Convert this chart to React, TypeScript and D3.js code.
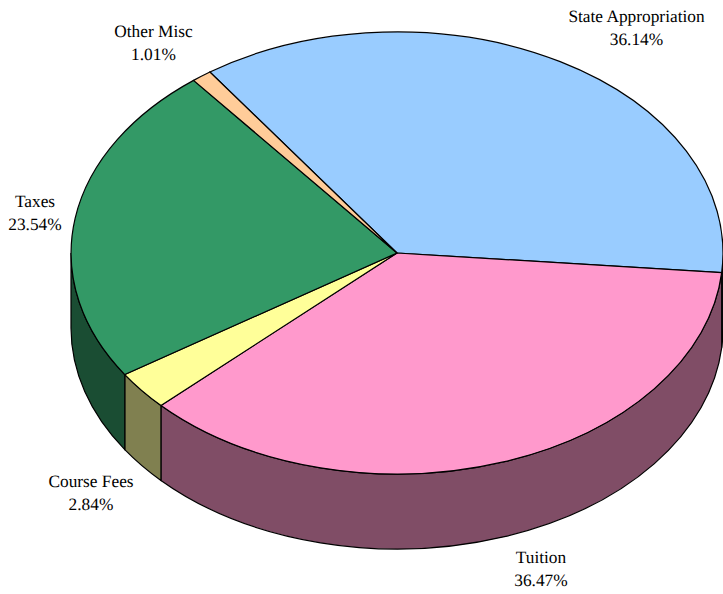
import React from "react";
import * as d3 from "d3";

const categories = ["State Appropriation", "Tuition", "Course Fees", "Taxes", "Other Misc"];
const shares = [36.14, 36.47, 2.84, 23.54, 1.01];
const shareLabels = ["36.14%", "36.47%", "2.84%", "23.54%", "1.01%"];
const topColors = ["#99CCFF", "#FF99CC", "#FFFF99", "#339966", "#FFCC99"];
const sideColors = ["#4D6680", "#804D66", "#808050", "#1A4D33", "#806650"];
const labelCenters: [number, number][] = [[636.5, 16], [541, 557], [91, 481], [35, 201], [153.5, 31]];

const W = 723, H = 594;
const cx = 397, cy = 253, rx = 326, ry = 221, depth = 75;
const startDeg = -35;

const rad = (d: number) => (d * Math.PI) / 180;
const pt = (a: number, dy = 0): [number, number] => [cx + rx * Math.sin(a), cy - ry * Math.cos(a) + dy];

export default function App() {
  const pie = d3.pie<number>().sort(null).startAngle(rad(startDeg)).endAngle(rad(startDeg + 360));
  const arcs = pie(shares);
  const arcGen = d3.arc<d3.PieArcDatum<number>>().innerRadius(0).outerRadius(1);

  const sidePath = (a0: number, a1: number) => {
    const s = Math.max(a0, Math.PI / 2), e = Math.min(a1, (3 * Math.PI) / 2);
    if (e <= s) return null;
    const p = d3.path();
    const [x0, y0] = pt(s), [x1, y1] = pt(e), [x2, y2] = pt(e, depth), [x3, y3] = pt(s, depth);
    p.moveTo(x0, y0);
    let d = p.toString();
    const large = e - s > Math.PI ? 1 : 0;
    d += `A${rx},${ry} 0 ${large} 1 ${x1},${y1}L${x2},${y2}A${rx},${ry} 0 ${large} 0 ${x3},${y3}Z`;
    return d;
  };

  return (
    <svg width={W} height={H} style={{ position: "absolute", left: 0, top: 0, background: "#fff" }}>
      {arcs.map((a, i) => {
        const d = sidePath(a.startAngle, a.endAngle);
        return d ? <path key={i} d={d} fill={sideColors[i]} stroke="#000" strokeWidth={1.2} /> : null;
      })}
      <g transform={`translate(${cx},${cy}) scale(${rx},${ry})`}>
        {arcs.map((a, i) => (
          <path
            key={i}
            d={arcGen(a) as string}
            fill={topColors[i]}
            stroke="#000"
            strokeWidth={1.2}
            vectorEffect="non-scaling-stroke"
          />
        ))}
      </g>
      <g fontFamily="'Liberation Serif', serif" fontSize={17.33} fill="#000" textAnchor="middle" textRendering="geometricPrecision">
        {categories.map((c, i) => (
          <text key={c} x={labelCenters[i][0]} y={labelCenters[i][1]}>
            <tspan x={labelCenters[i][0]} dy={6}>{c}</tspan>
            <tspan x={labelCenters[i][0]} dy={23}>{shareLabels[i]}</tspan>
          </text>
        ))}
      </g>
    </svg>
  );
}
